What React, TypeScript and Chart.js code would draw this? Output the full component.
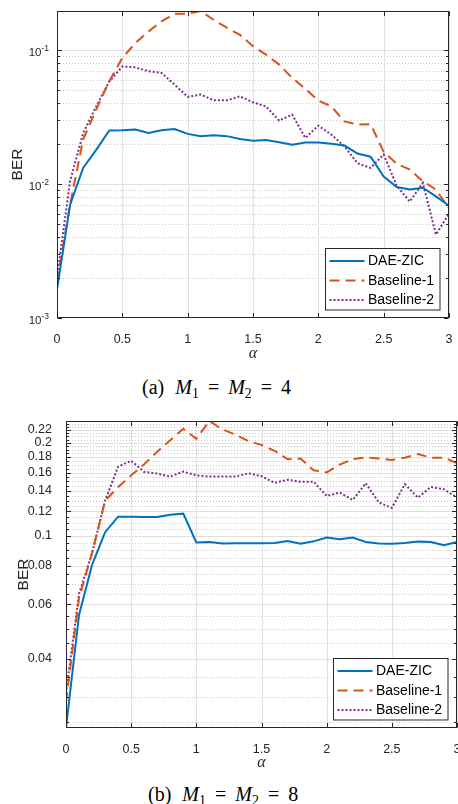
import React, { useEffect, useRef } from 'react';
import { Chart, registerables } from 'chart.js';

Chart.register(...registerables);

// ---------- data ----------
const alphaValues = [0, 0.1, 0.2, 0.3, 0.4, 0.5, 0.6, 0.7, 0.8, 0.9, 1.0, 1.1, 1.2, 1.3, 1.4, 1.5, 1.6, 1.7, 1.8, 1.9, 2.0, 2.1, 2.2, 2.3, 2.4, 2.5, 2.6, 2.7, 2.8, 2.9, 3.0];

const seriesNames = ['DAE-ZIC', 'Baseline-1', 'Baseline-2'];

// (a) M1 = M2 = 4
const berA_DAE = [0.00163, 0.0070, 0.0132, 0.018, 0.0251, 0.0252, 0.0255, 0.0241, 0.0252, 0.0258, 0.0237, 0.0228, 0.0231, 0.0228, 0.0217, 0.0211, 0.0213, 0.0205, 0.0197, 0.0204, 0.0204, 0.0200, 0.0194, 0.0169, 0.0160, 0.0114, 0.0095, 0.0091, 0.0094, 0.0081, 0.0069];
const berA_B1 = [0.00188, 0.0070, 0.0215, 0.036, 0.0585, 0.0875, 0.113, 0.138, 0.164, 0.187, 0.187, 0.196, 0.168, 0.147, 0.130, 0.107, 0.0925, 0.078, 0.062, 0.0515, 0.042, 0.038, 0.0294, 0.0278, 0.028, 0.0174, 0.0142, 0.0128, 0.0105, 0.0091, 0.0066];
const berA_B2 = [0.0020, 0.0105, 0.024, 0.038, 0.0585, 0.0755, 0.0745, 0.0695, 0.0676, 0.0553, 0.0448, 0.0466, 0.0422, 0.0422, 0.0452, 0.0408, 0.038, 0.0298, 0.033, 0.0221, 0.0273, 0.0234, 0.0191, 0.0143, 0.0132, 0.0166, 0.0097, 0.0074, 0.0102, 0.0042, 0.0060];

// (b) M1 = M2 = 8
const berB_DAE = [0.0239, 0.0555, 0.0806, 0.1028, 0.1154, 0.1152, 0.115, 0.115, 0.117, 0.118, 0.0952, 0.0956, 0.0945, 0.0946, 0.0946, 0.0946, 0.0948, 0.0963, 0.0943, 0.096, 0.0988, 0.0975, 0.0988, 0.0955, 0.0945, 0.0943, 0.0948, 0.0958, 0.0955, 0.0933, 0.0955];
const berB_B1 = [0.029, 0.063, 0.088, 0.13, 0.144, 0.157, 0.1705, 0.187, 0.204, 0.222, 0.206, 0.2353, 0.221, 0.2125, 0.2025, 0.197, 0.1885, 0.177, 0.178, 0.163, 0.1605, 0.17, 0.177, 0.1795, 0.178, 0.176, 0.179, 0.184, 0.179, 0.179, 0.172];
const berB_B2 = [0.031, 0.065, 0.088, 0.13, 0.1675, 0.175, 0.161, 0.159, 0.1555, 0.1614, 0.157, 0.1555, 0.1555, 0.1555, 0.1594, 0.156, 0.1485, 0.1518, 0.1497, 0.1497, 0.1346, 0.138, 0.1307, 0.148, 0.1283, 0.1232, 0.147, 0.133, 0.144, 0.1415, 0.133];

// ---------- ticks ----------
const xTickValues = [0, 0.5, 1, 1.5, 2, 2.5, 3];
const xTickLabels = ['0', '0.5', '1', '1.5', '2', '2.5', '3'];

const yMajorA = [0.001, 0.01, 0.1];
const yExpA = ['-3', '-2', '-1'];
const yMinorA = [0.002, 0.003, 0.004, 0.005, 0.006, 0.007, 0.008, 0.009, 0.02, 0.03, 0.04, 0.05, 0.06, 0.07, 0.08, 0.09];

const yMajorB = [0.04, 0.06, 0.08, 0.1, 0.12, 0.14, 0.16, 0.18, 0.2, 0.22];
const yLabelsB = ['0.04', '0.06', '0.08', '0.1', '0.12', '0.14', '0.16', '0.18', '0.2', '0.22'];
const yMinorB = [0.025, 0.03, 0.035, 0.045, 0.05, 0.055, 0.065, 0.07, 0.075, 0.085, 0.09, 0.095, 0.105, 0.11, 0.115, 0.125, 0.13, 0.135, 0.145, 0.15, 0.155, 0.165, 0.17, 0.175, 0.185, 0.19, 0.195, 0.205, 0.21, 0.215, 0.225, 0.23, 0.235];

// ---------- style ----------
const SANS = "'Liberation Sans', Arial, Helvetica, sans-serif";
const SERIF = "'Liberation Serif', 'Times New Roman', serif";
const AXIS_COLOR = '#262626';
const COLORS = ['#0072BD', '#D95319', '#7E2F8E'];
const DASHES: number[][] = [[], [10, 6], [2, 2]];

type PanelCfg = {
  top: number;
  height: number;
  yWidth: number;
  padTop: number;
  padRight: number;
  xHeight: number;
  yMin: number;
  yMax: number;
  yMajor: number[];
  yMinor: number[];
  yLabels?: string[];
  yExp?: string[];
  berTitlePad: number;
  series: number[][];
};

function makeDecor(cfg: PanelCfg) {
  return {
    id: 'matlabDecor',
    beforeDatasetsDraw(chart: any) {
      const { ctx, chartArea: ca } = chart;
      const xs = chart.scales.x;
      const ys = chart.scales.y;
      ctx.save();
      ctx.lineWidth = 1;
      // minor dotted grid
      ctx.strokeStyle = '#c9c9c9';
      ctx.setLineDash([1, 2]);
      ctx.beginPath();
      for (const v of cfg.yMinor) {
        if (v <= cfg.yMin || v >= cfg.yMax) continue;
        const y = Math.round(ys.getPixelForValue(v)) + 0.5;
        ctx.moveTo(ca.left, y);
        ctx.lineTo(ca.right, y);
      }
      ctx.stroke();
      // major grid
      ctx.setLineDash([]);
      ctx.strokeStyle = '#e0e0e0';
      ctx.beginPath();
      for (const v of xTickValues) {
        const x = Math.round(xs.getPixelForValue(v)) + 0.5;
        ctx.moveTo(x, ca.top);
        ctx.lineTo(x, ca.bottom);
      }
      for (const v of cfg.yMajor) {
        if (v <= cfg.yMin || v >= cfg.yMax) continue;
        const y = Math.round(ys.getPixelForValue(v)) + 0.5;
        ctx.moveTo(ca.left, y);
        ctx.lineTo(ca.right, y);
      }
      ctx.stroke();
      ctx.restore();
    },
    afterDatasetsDraw(chart: any) {
      const { ctx, chartArea: ca } = chart;
      const xs = chart.scales.x;
      const ys = chart.scales.y;
      const L = Math.round(ca.left) + 0.5;
      const R = Math.round(ca.right) - 0.5;
      const T = Math.round(ca.top) + 0.5;
      const B = Math.round(ca.bottom) - 0.5;
      ctx.save();
      ctx.setLineDash([]);
      ctx.strokeStyle = AXIS_COLOR;
      ctx.lineWidth = 1;
      ctx.strokeRect(L, T, R - L, B - T);
      // tick marks
      ctx.beginPath();
      const majLen = 4.5;
      const minLen = 2.5;
      for (const v of xTickValues) {
        const x = Math.round(xs.getPixelForValue(v)) + 0.5;
        ctx.moveTo(x, B);
        ctx.lineTo(x, B - majLen);
        ctx.moveTo(x, T);
        ctx.lineTo(x, T + majLen);
      }
      for (const v of cfg.yMajor) {
        if (v < cfg.yMin || v > cfg.yMax) continue;
        const y = Math.round(ys.getPixelForValue(v)) + 0.5;
        ctx.moveTo(L, y);
        ctx.lineTo(L + majLen, y);
        ctx.moveTo(R, y);
        ctx.lineTo(R - majLen, y);
      }
      for (const v of cfg.yMinor) {
        if (v < cfg.yMin || v > cfg.yMax) continue;
        const y = Math.round(ys.getPixelForValue(v)) + 0.5;
        ctx.moveTo(L, y);
        ctx.lineTo(L + minLen, y);
        ctx.moveTo(R, y);
        ctx.lineTo(R - minLen, y);
      }
      ctx.stroke();

      // exponent tick labels (10^k)
      if (cfg.yExp) {
        ctx.fillStyle = AXIS_COLOR;
        ctx.textAlign = 'right';
        ctx.textBaseline = 'alphabetic';
        cfg.yMajor.forEach((v, i) => {
          const y = ys.getPixelForValue(v);
          const exp = cfg.yExp![i];
          ctx.font = `8.5px ${SANS}`;
          const supW = ctx.measureText(exp).width;
          const xr = ca.left - 8;
          ctx.fillText(exp, xr, y + 0.5);
          ctx.font = `11.5px ${SANS}`;
          ctx.fillText('10', xr - supW, y + 5.5);
        });
      }

      // legend
      const boxW = 114.5;
      const boxH = 61.5;
      const bx = Math.round(ca.right - 9.5 - boxW) + 0.5;
      const by = Math.round(ca.bottom - 9 - boxH) + 0.5;
      ctx.fillStyle = '#ffffff';
      ctx.fillRect(bx, by, boxW, boxH);
      ctx.strokeStyle = AXIS_COLOR;
      ctx.lineWidth = 1;
      ctx.strokeRect(bx, by, boxW, boxH);
      chart.data.datasets.forEach((ds: any, i: number) => {
        const cy = by + 12.5 + i * 19.5;
        ctx.save();
        ctx.strokeStyle = ds.borderColor;
        ctx.lineWidth = ds.borderWidth;
        ctx.setLineDash(ds.borderDash || []);
        ctx.beginPath();
        ctx.moveTo(bx + 4, cy);
        ctx.lineTo(bx + 39, cy);
        ctx.stroke();
        ctx.restore();
        ctx.fillStyle = '#000000';
        ctx.font = `14px ${SANS}`;
        ctx.textAlign = 'left';
        ctx.textBaseline = 'middle';
        ctx.fillText(ds.label, bx + 42.5, cy + 0.5);
      });
      ctx.restore();
    },
  };
}

function Panel({ cfg }: { cfg: PanelCfg }) {
  const ref = useRef<HTMLCanvasElement | null>(null);
  useEffect(() => {
    const canvas = ref.current;
    if (!canvas) return;
    const datasets = cfg.series.map((vals, i) => ({
      label: seriesNames[i],
      data: alphaValues.map((a, j) => ({ x: a, y: vals[j] })),
      borderColor: COLORS[i],
      backgroundColor: COLORS[i],
      borderWidth: 2,
      borderDash: DASHES[i],
      pointRadius: 0,
      tension: 0,
      fill: false,
    }));
    const chart = new Chart(canvas, {
      type: 'line',
      data: { datasets },
      options: {
        animation: false,
        responsive: false,
        devicePixelRatio: 1,
        layout: { padding: { left: 0, right: cfg.padRight, top: cfg.padTop, bottom: 0 } },
        plugins: { legend: { display: false }, tooltip: { enabled: false } },
        scales: {
          x: {
            type: 'linear',
            min: 0,
            max: 3,
            grid: { display: false },
            border: { display: false },
            afterBuildTicks: (s: any) => {
              s.ticks = xTickValues.map((v) => ({ value: v }));
            },
            afterFit: (s: any) => {
              s.height = cfg.xHeight;
              s.paddingLeft = 0;
              s.paddingRight = 0;
            },
            ticks: {
              autoSkip: false,
              maxRotation: 0,
              padding: 6.2,
              color: AXIS_COLOR,
              font: { family: SANS, size: 12.5 },
              callback: (_v: any, i: number) => xTickLabels[i],
            },
            title: {
              display: true,
              text: 'α',
              color: AXIS_COLOR,
              font: { family: SERIF, style: 'italic', size: 16 },
              padding: { top: 0, bottom: 0 },
            },
          },
          y: {
            type: 'logarithmic',
            min: cfg.yMin,
            max: cfg.yMax,
            grid: { display: false },
            border: { display: false },
            afterBuildTicks: (s: any) => {
              s.ticks = cfg.yMajor.map((v) => ({ value: v, major: true }));
            },
            afterFit: (s: any) => {
              s.width = cfg.yWidth;
              s.paddingTop = 0;
              s.paddingBottom = 0;
            },
            ticks: {
              display: !cfg.yExp,
              padding: 6,
              color: AXIS_COLOR,
              font: { family: SANS, size: 12.5 },
              callback: (_v: any, i: number) => (cfg.yLabels ? cfg.yLabels[i] : ''),
            },
            title: {
              display: true,
              text: 'BER',
              color: AXIS_COLOR,
              font: { family: SANS, size: 15.5 },
              padding: { top: cfg.berTitlePad, bottom: 0 },
            },
          },
        },
      },
      plugins: [makeDecor(cfg)],
    } as any);
    return () => chart.destroy();
  }, [cfg]);
  return (
    <canvas
      ref={ref}
      width={458}
      height={cfg.height}
      style={{ position: 'absolute', left: 0, top: cfg.top, width: 458, height: cfg.height }}
    />
  );
}

const panelA: PanelCfg = {
  top: 0,
  height: 363,
  yWidth: 57,
  padTop: 11,
  padRight: 9,
  xHeight: 45,
  yMin: 0.001,
  yMax: 0.196,
  yMajor: yMajorA,
  yMinor: yMinorA,
  yExp: yExpA,
  berTitlePad: 8.2,
  series: [berA_DAE, berA_B1, berA_B2],
};

const panelB: PanelCfg = {
  top: 400,
  height: 372,
  yWidth: 66,
  padTop: 21,
  padRight: 1,
  xHeight: 44,
  yMin: 0.0239,
  yMax: 0.2353,
  yMajor: yMajorB,
  yMinor: yMinorB,
  yLabels: yLabelsB,
  berTitlePad: 14.7,
  series: [berB_DAE, berB_B1, berB_B2],
};

function Caption({ top, left, tag, value }: { top: number; left: number; tag: string; value: string }) {
  const sub: React.CSSProperties = { fontSize: 14, position: 'relative', top: 4, fontStyle: 'normal' };
  const eq: React.CSSProperties = { margin: '0 9px' };
  return (
    <div
      style={{
        position: 'absolute',
        top,
        left,
        fontFamily: SERIF,
        fontSize: 20,
        lineHeight: '20px',
        color: '#000',
        whiteSpace: 'nowrap',
      }}
    >
      <span>{tag}</span>
      <span style={{ marginLeft: 11, fontStyle: 'italic' }}>M</span>
      <span style={sub}>1</span>
      <span style={eq}>=</span>
      <span style={{ fontStyle: 'italic' }}>M</span>
      <span style={sub}>2</span>
      <span style={eq}>=</span>
      <span>{value}</span>
    </div>
  );
}

export default function App() {
  useEffect(() => {
    document.body.style.margin = '0';
  }, []);
  return (
    <div style={{ position: 'relative', width: 458, height: 804, overflow: 'hidden', background: '#fff' }}>
      <Panel cfg={panelA} />
      <Panel cfg={panelB} />
      <Caption top={377} left={142} tag="(a)" value="4" />
      <Caption top={784} left={148} tag="(b)" value="8" />
    </div>
  );
}
